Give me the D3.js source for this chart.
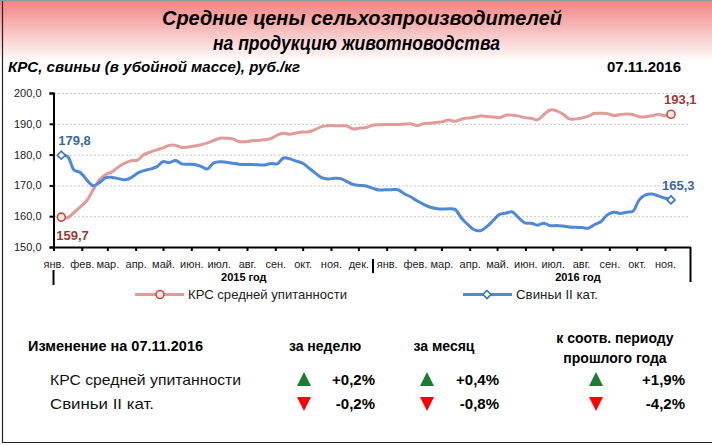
<!DOCTYPE html>
<html><head><meta charset="utf-8">
<script src="https://cdn.jsdelivr.net/npm/d3@7"></script>
<style>body{margin:0;background:#fff}svg{display:block}</style>
</head><body><svg id="c" width="712" height="445"></svg>
<script>
const months = ["янв.","фев.","мар.","апр.","май.","июн.","июл.","авг.","сен.","окт.","ноя.","дек."];
const years = ["2015 год","2016 год"];
const yTicks = [150,160,170,180,190,200];
const seriesNames = ["КРС средней упитанности","Свиньи II кат."];
const krsValues = [159.7,159.5,161.2,163,165,168.5,171.8,173.5,174.4,176,177.2,178,178.2,180,180.8,181.5,182.2,183,183,182.3,
182.5,182.8,183.2,183.8,184.6,185.3,185.3,185.1,184.2,184.2,184.5,184.6,184.8,185.2,186.3,186.9,186.6,187,187.3,187.4,
188.2,189.1,189.4,189.4,189.4,189.3,188.3,188.6,188.8,189.5,189.7,189.8,189.8,189.8,189.9,190,189.4,190,190.2,190.4,
190.7,191.2,190.8,191.5,191.9,192.1,192.5,192.4,192.2,192,192.8,192.8,192.5,192,191.8,191.3,193,194.5,194.2,193.1,
191.6,191.6,191.9,192.5,193.4,193.4,193.3,192.7,193,193.2,193,192.3,192.3,192.6,193.1,192.6,193.1];
const pigValues = [179.8,179.4,175,174.2,171.8,169.9,170.9,172.5,172.6,172.2,171.8,172.5,174,174.8,175.3,176,177.7,177.4,178.1,177,
176.9,176.8,176.2,175.3,177.3,177.7,177.5,177.2,176.9,176.8,176.8,176.7,176.6,177.1,177,178.9,178.6,177.9,177.2,175.6,
174,172.5,172.1,172.3,172.2,171.2,170.3,170,169.8,169.1,168.5,168.6,168.6,168.6,167.3,166.3,165,163.9,163,162.5,
162.3,162.4,162.2,159.4,157.3,155.6,155.3,156.6,158.6,160.6,161,161.4,159.5,157.8,157.7,157.1,157.7,156.9,157,156.8,
156.5,156.4,156.3,156.1,157.3,158.3,160.5,161.3,160.9,161.3,161.6,165.3,166.9,167.2,166.6,165.9,165.3];
const firstDate = new Date(2015,0,9), lastDate = new Date(2016,10,7);
const changeTitle = "Изменение на 07.11.2016";
const changeHeaders = [["за неделю"],["за месяц"],["к соотв. периоду","прошлого года"]];
const krsChanges = ["+0,2%","+0,4%","+1,9%"];
const pigChanges = ["-0,2%","-0,8%","-4,2%"];

const svg = d3.select("#c");
const narrow = "'Liberation Sans Narrow','Arial Narrow','Liberation Sans',Arial,sans-serif";
const sans = "'Liberation Sans',Arial,sans-serif";

const defs = svg.append("defs");
const g = defs.append("linearGradient").attr("id","tg").attr("x1",0).attr("y1",0).attr("x2",0).attr("y2",1);
g.append("stop").attr("offset","0%").attr("stop-color","#f08282");
g.append("stop").attr("offset","100%").attr("stop-color","#ffffff");
svg.append("rect").attr("x",0).attr("y",0).attr("width",712).attr("height",62).attr("fill","url(#tg)");

// frame
svg.append("line").attr("x1",2.5).attr("x2",2.5).attr("y1",0).attr("y2",443).attr("stroke","#222").attr("stroke-width",1.2);
svg.append("line").attr("x1",2).attr("x2",712).attr("y1",442.5).attr("y2",442.5).attr("stroke","#222").attr("stroke-width",1.2);
svg.append("line").attr("x1",0).attr("x2",712).attr("y1",0.5).attr("y2",0.5).attr("stroke","#999").attr("stroke-width",1);

function txt(x,y,s,o){const t=svg.append("text").attr("x",x).attr("y",y).text(s)
 .attr("font-family",o.ff||sans).attr("font-size",o.fs).attr("fill",o.fill||"#000")
 .attr("font-weight",o.fw||"normal").attr("font-style",o.st||"normal").attr("text-anchor",o.a||"start");
 if(o.tl){t.attr("textLength",o.tl).attr("lengthAdjust","spacingAndGlyphs");} return t;}
txt(162,25,"Средние цены сельхозпроизводителей",{ff:narrow,fs:21,fw:"bold",st:"italic",tl:400});
txt(213,50,"на продукцию животноводства",{ff:narrow,fs:21,fw:"bold",st:"italic",tl:287});
txt(8,72,"КРС, свиньи (в убойной массе), руб./кг",{ff:narrow,fs:15,fw:"bold",st:"italic",tl:292});
txt(607,72,"07.11.2016",{ff:narrow,fs:14,fw:"bold",tl:74});

// scales
const x = d3.scaleTime().domain([new Date(2015,0,1), lastDate]).range([54,671]);
const y = d3.scaleLinear().domain([150,200]).range([247,93]);
const n = krsValues.length;
const dates = krsValues.map((d,i)=> new Date(+firstDate + (lastDate-firstDate)*i/(n-1)));

// grid
svg.append("g").selectAll("line").data(yTicks.slice(1)).join("line")
 .attr("x1",54).attr("x2",690).attr("y1",d=>y(d)+0.5).attr("y2",d=>y(d)+0.5)
 .attr("stroke","#c8c8c8").attr("stroke-dasharray","2,2");

// y axis
const ya = svg.append("g").attr("transform","translate(53.5,0)")
 .call(d3.axisLeft(y).tickValues(yTicks).tickSize(4).tickFormat(d=>d3.format(".1f")(d).replace(".",",")));
ya.select(".domain").attr("stroke","#000").attr("stroke-width",2);
ya.selectAll(".tick line").attr("stroke","#000").attr("stroke-width",2);
ya.selectAll("text").attr("font-family",sans).attr("font-size",11).attr("fill","#222").attr("x",-12);

// x axis
const monthDates = d3.timeMonth.range(new Date(2015,0,1), new Date(2016,11,1));
svg.append("line").attr("x1",53).attr("x2",691).attr("y1",247.5).attr("y2",247.5).attr("stroke","#000").attr("stroke-width",2);
svg.append("g").selectAll("line").data(monthDates).join("line")
 .attr("x1",d=>x(d)).attr("x2",d=>x(d)).attr("y1",247).attr("y2",251).attr("stroke","#000").attr("stroke-width",2);
svg.append("g").selectAll("text").data(monthDates).join("text")
 .attr("x",d=>x(d)).attr("y",268).attr("text-anchor","middle").attr("font-family",sans).attr("font-size",11).attr("fill","#222")
 .text(d=>months[d.getMonth()]);
svg.append("g").selectAll("text").data(years).join("text")
 .attr("x",(d,i)=>x(new Date(2015+i,6,28))).attr("y",281).attr("text-anchor","middle")
 .attr("font-family",sans).attr("font-size",11).attr("font-weight","bold").text(d=>d);
const divX = (x(new Date(2015,11,1))+x(new Date(2016,0,1)))/2;
svg.append("line").attr("x1",53.5).attr("x2",53.5).attr("y1",270).attr("y2",285).attr("stroke","#000").attr("stroke-width",2);
svg.append("line").attr("x1",divX).attr("x2",divX).attr("y1",259).attr("y2",273).attr("stroke","#000").attr("stroke-width",2);
svg.append("line").attr("x1",690.5).attr("x2",690.5).attr("y1",247).attr("y2",282).attr("stroke","#000").attr("stroke-width",2);

// lines
const line = d3.line().x((d,i)=>x(dates[i])).y(d=>y(d)).curve(d3.curveCatmullRom.alpha(0.5));
const krsColor="#e29b9b", pigColor="#4f88d6";
svg.append("path").datum(krsValues).attr("d",line).attr("fill","none").attr("stroke",krsColor).attr("stroke-width",3).attr("stroke-linejoin","round");
svg.append("path").datum(pigValues).attr("d",line).attr("fill","none").attr("stroke",pigColor).attr("stroke-width",3).attr("stroke-linejoin","round");

const dia = "M0,-4L4,0L0,4L-4,0Z";
function circ(cx,cy){svg.append("circle").attr("cx",cx).attr("cy",cy).attr("r",4)
  .attr("fill","#fde6dc").attr("stroke","#c0504d").attr("stroke-width",1.6);}
function diam(cx,cy){svg.append("path").attr("d",dia).attr("transform",`translate(${cx},${cy})`)
  .attr("fill","#fff").attr("stroke","#3b72c0").attr("stroke-width",1.6);}
[0,n-1].forEach(i=>{ circ(x(dates[i]),y(krsValues[i])); diam(x(dates[i]),y(pigValues[i])); });
const fmt = v=>d3.format(".1f")(v).replace(".",",");
const labRed="#983a3a", labBlue="#3a68a6";
txt(x(dates[0])-3,145,fmt(pigValues[0]),{fs:13,fw:"bold",fill:labBlue});
txt(x(dates[0])-5,240,fmt(krsValues[0]),{fs:13,fw:"bold",fill:labRed});
txt(x(dates[n-1])-7,104,fmt(krsValues[n-1]),{fs:13,fw:"bold",fill:labRed});
txt(x(dates[n-1])-9,190,fmt(pigValues[n-1]),{fs:13,fw:"bold",fill:labBlue});

// legend
svg.append("line").attr("x1",135).attr("x2",184).attr("y1",294.5).attr("y2",294.5).attr("stroke",krsColor).attr("stroke-width",3);
circ(160,294.5);
txt(188,299,seriesNames[0],{fs:13,fill:"#222",tl:159});
svg.append("line").attr("x1",463).attr("x2",512).attr("y1",294.5).attr("y2",294.5).attr("stroke",pigColor).attr("stroke-width",3);
diam(487,294.5);
txt(516,299,seriesNames[1],{fs:13,fill:"#222",tl:82});

// table
txt(28,351,changeTitle,{ff:narrow,fs:14,fw:"bold",tl:175});
const colX=[325,444,615];
changeHeaders.forEach((h,i)=>{
 if(h.length===1) txt(colX[i],351,h[0],{ff:narrow,fs:14,fw:"bold",a:"middle"});
 else {txt(colX[i],343,h[0],{ff:narrow,fs:14,fw:"bold",a:"middle"}); txt(colX[i],363,h[1],{ff:narrow,fs:14,fw:"bold",a:"middle"});}
});
txt(50,385,seriesNames[0],{ff:narrow,fs:15,fill:"#111",tl:191});
txt(50,409,seriesNames[1],{ff:narrow,fs:15,fill:"#111",tl:104});
const triX=[304,427,596], valX=[375,499,685];
function tri(cx,cy,up,col){const w=7,h=14;
 const p = up?`M${cx},${cy-h/2}L${cx+w},${cy+h/2}L${cx-w},${cy+h/2}Z`:`M${cx-w},${cy-h/2}L${cx+w},${cy-h/2}L${cx},${cy+h/2}Z`;
 svg.append("path").attr("d",p).attr("fill",col);}
krsChanges.forEach((v,i)=>{tri(triX[i],379,v[0]==="+","#1e7b34"); txt(valX[i],385,v,{ff:narrow,fs:15,fw:"bold",a:"end"});});
pigChanges.forEach((v,i)=>{tri(triX[i],404,v[0]==="+","#ff0000"); txt(valX[i],409,v,{ff:narrow,fs:15,fw:"bold",a:"end"});});
</script></body></html>
